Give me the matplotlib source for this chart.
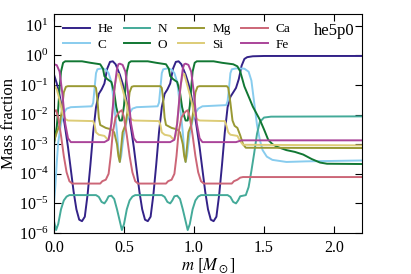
import numpy as np
import matplotlib
matplotlib.use("Agg")
import matplotlib.pyplot as plt

# mass coordinate [Msun] and log10(mass fraction)
he_m = [0.00, 0.02, 0.04, 0.06, 0.08, 0.10, 0.12, 0.14, 0.16, 0.18, 0.20, 0.22, 0.24, 0.26, 0.28, 0.30, 0.32, 0.34, 0.36, 0.38, 0.40, 0.42, 0.44,
        0.47, 0.49, 0.51, 0.53, 0.55, 0.57, 0.59, 0.61, 0.63, 0.65, 0.67, 0.69, 0.71, 0.73, 0.75, 0.77, 0.79, 0.81, 0.83, 0.85, 0.87, 0.89, 0.91,
        0.94, 0.96, 0.98, 1.00, 1.02, 1.04, 1.06, 1.08, 1.10, 1.12, 1.14, 1.16, 1.18, 1.20, 1.22, 1.24, 1.26, 1.28, 1.30, 1.32, 1.34, 1.36, 1.38, 1.42, 1.50, 2.20]
he_log = [-0.65, -0.95, -1.35, -1.85, -2.45, -3.10, -3.85, -4.60, -5.20, -5.55, -5.60, -5.45, -4.70, -3.70, -2.60, -1.75, -1.30, -1.15, -0.95, -0.45, -0.22, -0.20, -0.30,
          -0.65, -0.95, -1.35, -1.85, -2.45, -3.10, -3.85, -4.60, -5.20, -5.55, -5.60, -5.45, -4.70, -3.70, -2.60, -1.75, -1.30, -1.15, -0.95, -0.45, -0.22, -0.20, -0.30,
          -0.65, -0.95, -1.35, -1.85, -2.45, -3.10, -3.85, -4.60, -5.20, -5.55, -5.60, -5.45, -4.70, -3.70, -2.60, -1.75, -1.40, -1.25, -1.10, -0.80, -0.35, -0.12, -0.06, -0.03, -0.02, -0.02]

c_m = [0.00, 0.01, 0.02, 0.03, 0.05, 0.07, 0.09, 0.12, 0.27, 0.28, 0.29, 0.30, 0.31, 0.34, 0.37, 0.39, 0.41, 0.43, 0.45, 0.46,
       0.47, 0.48, 0.49, 0.50, 0.52, 0.54, 0.56, 0.59, 0.74, 0.75, 0.76, 0.77, 0.78, 0.81, 0.84, 0.86, 0.88, 0.90, 0.92, 0.93,
       0.94, 0.95, 0.96, 0.97, 0.99, 1.01, 1.03, 1.06, 1.23, 1.24, 1.25, 1.26, 1.27, 1.30, 1.36, 1.39, 1.41, 1.43, 1.45, 1.47, 1.49, 1.52, 1.56, 1.66, 1.80, 2.20]
c_log = [-5.00, -4.40, -3.60, -2.95, -2.30, -1.95, -1.80, -1.75, -1.72, -1.60, -1.10, -0.60, -0.47, -0.44, -0.48, -0.60, -0.90, -1.70, -2.60, -3.20,
         -3.60, -3.40, -3.00, -2.65, -2.20, -1.95, -1.80, -1.75, -1.72, -1.60, -1.10, -0.60, -0.47, -0.44, -0.48, -0.60, -0.90, -1.70, -2.60, -3.20,
         -3.60, -3.40, -3.00, -2.65, -2.20, -1.95, -1.80, -1.72, -1.68, -1.55, -1.10, -0.60, -0.47, -0.44, -0.45, -0.55, -0.85, -1.60, -2.35, -2.85, -3.20, -3.42, -3.53, -3.60, -3.58, -3.55]

n_m = [0.00, 0.015, 0.03, 0.05, 0.07, 0.09, 0.11, 0.30, 0.32, 0.34, 0.36, 0.375, 0.39, 0.41, 0.43, 0.45,
       0.47, 0.485, 0.50, 0.52, 0.54, 0.56, 0.58, 0.77, 0.79, 0.81, 0.83, 0.845, 0.86, 0.88, 0.90, 0.92,
       0.94, 0.955, 0.97, 0.99, 1.01, 1.03, 1.05, 1.24, 1.26, 1.28, 1.30, 1.315, 1.33, 1.37, 1.39, 1.41, 1.43, 1.45, 1.47, 1.50, 1.55, 2.20]
n_log = [-5.60, -5.90, -5.70, -5.20, -4.90, -4.77, -4.72, -4.72, -4.78, -4.95, -5.00, -4.90, -4.76, -4.74, -4.85, -5.20,
         -5.60, -5.90, -5.70, -5.20, -4.90, -4.77, -4.72, -4.72, -4.78, -4.95, -5.00, -4.90, -4.76, -4.74, -4.85, -5.20,
         -5.60, -5.90, -5.70, -5.20, -4.90, -4.77, -4.72, -4.72, -4.78, -4.95, -5.00, -4.90, -4.76, -4.72, -4.45, -3.90, -3.30, -2.65, -2.25, -2.10, -2.07, -2.06]

o_m = [0.00, 0.02, 0.03, 0.04, 0.05, 0.065, 0.08, 0.20, 0.26, 0.33, 0.35, 0.36, 0.38, 0.41, 0.43, 0.445, 0.46,
       0.47, 0.485, 0.50, 0.51, 0.52, 0.535, 0.55, 0.67, 0.73, 0.80, 0.82, 0.83, 0.85, 0.88, 0.90, 0.915, 0.93,
       0.94, 0.955, 0.97, 0.98, 0.99, 1.005, 1.02, 1.14, 1.20, 1.28, 1.31, 1.33, 1.36, 1.40, 1.42, 1.47, 1.50, 1.53, 1.56, 1.60, 1.66, 1.72, 1.78, 1.84, 1.90, 1.95, 2.20]
o_log = [-3.00, -2.40, -1.80, -1.10, -0.55, -0.25, -0.20, -0.20, -0.25, -0.30, -0.45, -0.70, -0.80, -0.90, -1.25, -1.75, -2.05,
         -2.20, -2.20, -1.70, -1.10, -0.55, -0.25, -0.20, -0.20, -0.25, -0.30, -0.45, -0.70, -0.80, -0.90, -1.25, -1.75, -2.05,
         -2.20, -2.20, -1.70, -1.10, -0.55, -0.25, -0.20, -0.20, -0.25, -0.30, -0.37, -0.54, -1.05, -1.50, -1.73, -2.17, -2.50, -2.85, -3.00, -3.10, -3.20, -3.26, -3.35, -3.50, -3.62, -3.66, -3.67]

mg_m = [0.00, 0.02, 0.04, 0.055, 0.07, 0.085, 0.10, 0.29, 0.30, 0.31, 0.32, 0.33, 0.37, 0.41, 0.43, 0.45, 0.46,
        0.47, 0.48, 0.49, 0.51, 0.525, 0.54, 0.555, 0.57, 0.76, 0.77, 0.78, 0.79, 0.80, 0.84, 0.88, 0.90, 0.92, 0.93,
        0.94, 0.95, 0.96, 0.98, 0.995, 1.01, 1.025, 1.04, 1.235, 1.245, 1.26, 1.275, 1.29, 1.31, 1.33, 1.35, 1.37, 2.20]
mg_log = [-2.90, -2.60, -2.35, -1.90, -1.25, -1.06, -1.04, -1.04, -1.10, -1.50, -2.10, -2.35, -2.45, -2.50, -2.60, -3.00, -3.40,
          -3.60, -3.10, -2.60, -2.35, -1.90, -1.25, -1.06, -1.04, -1.04, -1.10, -1.50, -2.10, -2.35, -2.45, -2.50, -2.60, -3.00, -3.40,
          -3.60, -3.10, -2.60, -2.35, -1.90, -1.25, -1.06, -1.04, -1.04, -1.10, -1.60, -2.20, -2.38, -2.45, -2.70, -3.00, -3.12, -3.13]

si_m = [0.00, 0.02, 0.04, 0.06, 0.08, 0.10, 0.28, 0.29, 0.30, 0.32, 0.36, 0.385, 0.40, 0.42, 0.435, 0.45, 0.46,
        0.47, 0.49, 0.51, 0.53, 0.55, 0.57, 0.75, 0.76, 0.77, 0.79, 0.83, 0.855, 0.87, 0.89, 0.905, 0.92, 0.93,
        0.94, 0.96, 0.98, 1.00, 1.02, 1.04, 1.22, 1.23, 1.245, 1.26, 1.31, 1.33, 1.35, 2.20]
si_log = [-1.00, -1.15, -1.50, -1.95, -2.15, -2.20, -2.22, -2.35, -2.60, -2.68, -2.72, -2.85, -2.70, -1.80, -1.00, -0.65, -0.62,
          -0.80, -1.15, -1.50, -1.95, -2.15, -2.20, -2.22, -2.35, -2.60, -2.68, -2.72, -2.85, -2.70, -1.80, -1.00, -0.65, -0.62,
          -0.80, -1.15, -1.50, -1.95, -2.15, -2.20, -2.22, -2.35, -2.60, -2.68, -2.72, -2.90, -3.02, -3.04]

ca_m = [0.00, 0.015, 0.03, 0.05, 0.07, 0.09, 0.11, 0.13, 0.33, 0.345, 0.37, 0.39, 0.405, 0.42, 0.44, 0.46,
        0.47, 0.485, 0.50, 0.52, 0.54, 0.56, 0.58, 0.60, 0.80, 0.815, 0.84, 0.86, 0.875, 0.89, 0.91, 0.93,
        0.94, 0.955, 0.97, 0.99, 1.01, 1.03, 1.05, 1.07, 1.27, 1.285, 1.31, 1.33, 1.35, 2.20]
ca_log = [-1.90, -1.85, -2.10, -2.70, -3.40, -3.95, -4.25, -4.33, -4.33, -4.25, -4.20, -4.00, -3.40, -2.60, -2.10, -1.95,
          -1.90, -1.85, -2.10, -2.70, -3.40, -3.95, -4.25, -4.33, -4.33, -4.25, -4.20, -4.00, -3.40, -2.60, -2.10, -1.95,
          -1.90, -1.85, -2.10, -2.70, -3.40, -3.95, -4.25, -4.33, -4.33, -4.25, -4.20, -4.13, -4.11, -4.11]

fe_m = [0.00, 0.02, 0.04, 0.06, 0.08, 0.10, 0.12, 0.36, 0.39, 0.41, 0.43, 0.45, 0.46,
        0.47, 0.49, 0.51, 0.53, 0.55, 0.57, 0.59, 0.83, 0.86, 0.88, 0.90, 0.92, 0.93,
        0.94, 0.96, 0.98, 1.00, 1.02, 1.04, 1.06, 1.30, 1.32, 1.34, 2.20]
fe_log = [-0.30, -0.33, -0.55, -1.30, -2.30, -2.80, -2.93, -2.93, -2.85, -2.30, -1.20, -0.45, -0.30,
          -0.28, -0.32, -0.55, -1.30, -2.30, -2.80, -2.93, -2.93, -2.85, -2.30, -1.20, -0.45, -0.30,
          -0.28, -0.32, -0.55, -1.30, -2.30, -2.80, -2.93, -2.93, -2.90, -2.87, -2.87]

labels = ['He', 'C', 'N', 'O', 'Mg', 'Si', 'Ca', 'Fe']
colors = ['#332288', '#88CCEE', '#44AA99', '#117733', '#999933', '#DDCC77', '#CC6677', '#AA4499']
series = [(he_m, he_log), (c_m, c_log), (n_m, n_log), (o_m, o_log),
          (mg_m, mg_log), (si_m, si_log), (ca_m, ca_log), (fe_m, fe_log)]

plt.rcParams['font.family'] = 'serif'
plt.rcParams['font.serif'] = ['Liberation Serif', 'DejaVu Serif']
plt.rcParams['mathtext.fontset'] = 'stix'

fig = plt.figure(figsize=(4.11, 2.74), dpi=100)
ax = fig.add_axes([54/411, 41/274, 308/411, 219/274])

for (m, lg), lab, col in zip(series, labels, colors):
    ax.plot(m, 10.0**np.array(lg), color=col, lw=1.4, label=lab)

ax.set_yscale('log')
ax.set_xlim(0, 2.2)
ax.set_ylim(1e-6, 25)
ax.set_xticks([0.0, 0.5, 1.0, 1.5, 2.0])
ax.set_xticklabels(['0.0', '0.5', '1.0', '1.5', '2.0'])
ax.set_yticks([1e-6, 1e-5, 1e-4, 1e-3, 1e-2, 1e-1, 1e0, 1e1])
ax.tick_params(which='both', direction='in', top=True, right=True, labelsize=11.5)
ax.tick_params(which='major', length=5)
ax.tick_params(which='minor', length=2.5)
ax.tick_params(axis='x', pad=5)
ax.tick_params(axis='y', pad=4)
ax.set_xlabel(r'$m\ [M_\odot]$', fontsize=12, labelpad=0)
ax.set_ylabel('Mass fraction', fontsize=12, labelpad=1)
ax.text(0.975, 0.96, 'he5p0', transform=ax.transAxes, ha='right', va='top', fontsize=12)
ax.legend(loc='upper left', ncol=4, frameon=False, fontsize=9.5, handlelength=2.0,
          columnspacing=0.8, handletextpad=0.6, labelspacing=0.25, borderaxespad=0.3)

fig.savefig('out.png', dpi=100)
